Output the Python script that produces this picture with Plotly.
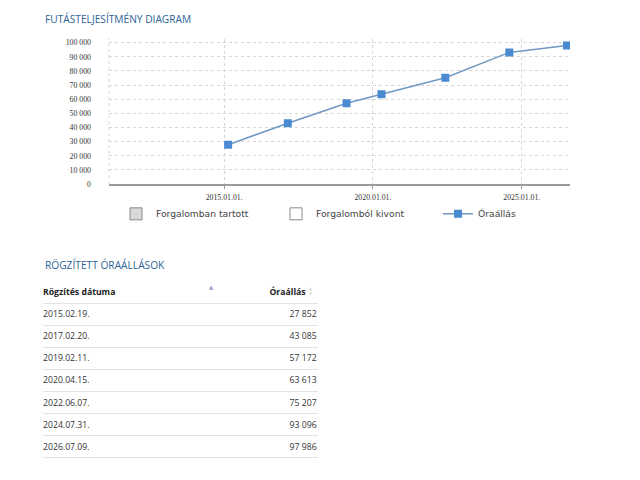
import plotly.graph_objects as go

# adatok
datumok = ["2015-02-19", "2017-02-20", "2019-02-11", "2020-04-15",
           "2022-06-07", "2024-07-31", "2026-07-09"]
oraallas = [27852, 43085, 57172, 63613, 75207, 93096, 97986]
datum_cimkek = ["2015.02.19.", "2017.02.20.", "2019.02.11.", "2020.04.15.",
                "2022.06.07.", "2024.07.31.", "2026.07.09."]
fejlec = ["Rögzítés dátuma", "Óraállás"]
y_tickek = list(range(0, 100001, 10000))
y_cimkek = [f"{v:,}".replace(",", " ") for v in y_tickek]
ertekek = [f"{v:,}".replace(",", " ") for v in oraallas]

W, H = 640, 480
OFF_X, OFF_Y = 8, 6  # body margin a böngészőben

def px(x):
    return (x - OFF_X) / W

def py(y):
    return 1 - (y - OFF_Y) / H

fig = go.Figure()

# legenda-elemek (üres sorozatok)
fig.add_trace(go.Bar(x=[None], y=[None], name="Forgalomban tartott", legend="legend",
                     marker=dict(color="#d9d9d9", line=dict(color="#8a8a8a", width=1))))
fig.add_trace(go.Bar(x=[None], y=[None], name="Forgalomból kivont", legend="legend2",
                     marker=dict(color="#ffffff", line=dict(color="#8a8a8a", width=1))))

fig.add_trace(go.Scatter(
    x=datumok, y=oraallas, name="Óraállás", mode="lines+markers", legend="legend3",
    line=dict(color="#6f99c2", width=1.5),
    marker=dict(symbol="square", size=8, color="#4a8ad0"),
))

# táblázat: szöveges sorozatok a második tengelypáron
sorok = list(range(1, len(datumok) + 1))
tabla_font = dict(family="Open Sans", size=8.7, color="#333")
fig.add_trace(go.Scatter(
    x=[0] * len(datumok), y=sorok, text=datum_cimkek, mode="text",
    textposition="middle right", textfont=tabla_font,
    xaxis="x2", yaxis="y2", showlegend=False, hoverinfo="skip",
))
fig.add_trace(go.Scatter(
    x=[0.995] * len(ertekek), y=sorok, text=ertekek, mode="text",
    textposition="middle left", textfont=tabla_font,
    xaxis="x2", yaxis="y2", showlegend=False, hoverinfo="skip",
))
fig.add_trace(go.Scatter(
    x=[0, 0.955], y=[0, 0], text=[f"<b>{t}</b>" for t in fejlec], mode="text",
    textposition=["middle right", "middle left"],
    textfont=dict(family="Open Sans", size=8.7, color="#222"),
    xaxis="x2", yaxis="y2", showlegend=False, hoverinfo="skip",
))

leg_font = dict(family="DejaVu Sans", size=9.2, color="#444")

fig.update_layout(
    width=W, height=H,
    margin=dict(l=0, r=0, t=0, b=0),
    paper_bgcolor="white", plot_bgcolor="white",
    barmode="overlay",
    showlegend=True,
    xaxis=dict(
        domain=[px(109), px(570)],
        type="date", range=["2011-02-18", "2026-08-15"],
        tick0="2015-01-01", dtick="M60", tickformat="%Y.%m.%d.",
        showgrid=True, gridcolor="#d6d6d6", griddash="dot", gridwidth=1,
        showline=True, linecolor="#9a9a9a", linewidth=1.5,
        ticks="outside", ticklen=3, tickcolor="#9a9a9a", ticklabelstandoff=2,
        tickfont=dict(family="Liberation Serif", size=7.8, color="#333"),
        zeroline=False,
    ),
    yaxis=dict(
        domain=[py(184), py(37)],
        range=[0, 102800],
        tickvals=y_tickek, ticktext=y_cimkek,
        showgrid=True, gridcolor="#d6d6d6", griddash="dot", gridwidth=1,
        showline=False, zeroline=False, ticks="", ticklabelstandoff=17,
        tickfont=dict(family="Liberation Serif", size=7.8, color="#333"),
    ),
    xaxis2=dict(
        domain=[px(43), px(318)], range=[0, 1.0], anchor="y2",
        visible=False, fixedrange=True,
    ),
    yaxis2=dict(
        domain=[py(283 + 178.4), py(283)], range=[7.51, -0.5], anchor="x2",
        tickvals=[i + 0.45 for i in range(len(datumok) + 1)],
        showticklabels=False, ticks="", showline=False, zeroline=False,
        showgrid=True, gridcolor="#e3e3e3", gridwidth=1, fixedrange=True,
    ),
    legend=dict(x=px(116), y=py(214), xanchor="left", yanchor="middle",
                font=leg_font, bgcolor="rgba(0,0,0,0)"),
    legend2=dict(x=px(276), y=py(214), xanchor="left", yanchor="middle",
                 font=leg_font, bgcolor="rgba(0,0,0,0)"),
    legend3=dict(x=px(438), y=py(214), xanchor="left", yanchor="middle",
                 font=leg_font, bgcolor="rgba(0,0,0,0)"),
    shapes=[
        # bal oldali pontozott vonal
        dict(type="line", xref="x domain", yref="y domain",
             x0=0, x1=0, y0=0, y1=1,
             line=dict(color="#d6d6d6", width=1, dash="dot"), layer="below"),
    ],
    annotations=[
        dict(text="FUTÁSTELJESÍTMÉNY DIAGRAM", xref="paper", yref="paper",
             x=px(43), y=py(17), xanchor="left", yanchor="middle", showarrow=False,
             font=dict(family="Open Sans", size=10.2, color="#2e6496")),
        dict(text="RÖGZÍTETT ÓRAÁLLÁSOK", xref="paper", yref="paper",
             x=px(43), y=py(266), xanchor="left", yanchor="middle", showarrow=False,
             font=dict(family="Open Sans", size=10.2, color="#2e6496")),
        dict(text="▲", xref="paper", yref="paper",
             x=px(211), y=py(288), xanchor="center", yanchor="middle", showarrow=False,
             font=dict(family="DejaVu Sans", size=5.5, color="#9b9bd0")),
        dict(text="▲<br>▼", xref="paper", yref="paper",
             x=px(311), y=py(292), xanchor="center", yanchor="middle", showarrow=False,
             font=dict(family="DejaVu Sans", size=4, color="#d8d8d8")),
    ],
)

fig.write_html("out.html")
